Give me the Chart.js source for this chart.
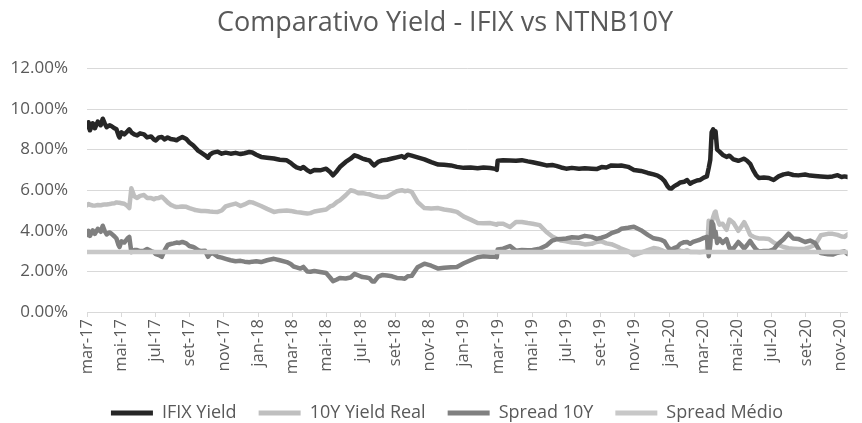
<!DOCTYPE html>
<html>
<head>
<meta charset="utf-8">
<script src="https://cdn.jsdelivr.net/npm/chart.js@4/dist/chart.umd.min.js"></script>
<style>
  html, body { margin: 0; padding: 0; background: #ffffff; }
  #wrap { width: 862px; height: 423px; }
</style>
</head>
<body>
<div id="wrap"><canvas id="c" width="862" height="423"></canvas></div>
<script>
// x positions: months elapsed since 1 March 2017
const months = [
  0, 0.09, 0.17, 0.34, 0.46, 0.63, 0.80, 0.92, 1.03, 1.15,
  1.32, 1.44, 1.61, 1.72, 1.84, 1.90, 2.01, 2.18, 2.36, 2.47,
  2.59, 2.76, 2.93, 3.10, 3.33, 3.51, 3.74, 3.91, 4.02, 4.20,
  4.37, 4.54, 4.71, 4.89, 5.06, 5.23, 5.40, 5.57, 5.80, 5.98,
  6.21, 6.32, 6.49, 6.67, 6.90, 7.07, 7.18, 7.36, 7.64, 7.87,
  8.10, 8.39, 8.68, 8.97, 9.20, 9.48, 9.66, 9.89, 10.17, 10.52,
  10.92, 11.26, 11.67, 11.90, 12.07, 12.24, 12.47, 12.64, 12.87, 13.05,
  13.28, 13.62, 13.97, 14.20, 14.37, 14.60, 14.77, 15.11, 15.40, 15.63,
  15.86, 16.09, 16.32, 16.49, 16.67, 16.78, 17.01, 17.24, 17.53, 17.82,
  18.10, 18.39, 18.56, 18.74, 18.97, 19.31, 19.71, 20.11, 20.52, 20.86,
  21.26, 21.61, 22.01, 22.41, 22.82, 23.16, 23.56, 23.85, 23.94, 23.99,
  24.31, 24.71, 25.06, 25.40, 25.75, 26.03, 26.44, 26.84, 27.18, 27.41,
  27.70, 27.99, 28.33, 28.74, 29.08, 29.48, 29.77, 30.06, 30.34, 30.63,
  31.03, 31.21, 31.61, 31.95, 32.36, 32.76, 33.10, 33.33, 33.56, 33.74,
  33.91, 34.02, 34.14, 34.31, 34.48, 34.66, 34.89, 35.06, 35.23, 35.40,
  35.63, 35.80, 36.03, 36.21, 36.32, 36.41, 36.49, 36.58, 36.67, 36.72,
  36.81, 36.95, 37.13, 37.36, 37.53, 37.76, 38.05, 38.22, 38.39, 38.56,
  38.74, 38.91, 39.08, 39.25, 39.54, 39.83, 40.11, 40.40, 40.69, 40.98,
  41.26, 41.55, 41.95, 42.24, 42.53, 42.87, 43.28, 43.56, 43.85, 44.08,
  44.25, 44.43
];

const ifixYield = [
  9.10, 9.35, 8.95, 9.30, 9.05, 9.38, 9.20, 9.52, 9.30, 9.10,
  9.20, 9.15, 9.05, 9.00, 8.70, 8.60, 8.85, 8.75, 8.90, 9.00,
  8.85, 8.75, 8.70, 8.80, 8.75, 8.60, 8.65, 8.50, 8.45, 8.60,
  8.62, 8.50, 8.60, 8.52, 8.50, 8.46, 8.55, 8.62, 8.52, 8.35,
  8.20, 8.10, 7.95, 7.85, 7.72, 7.60, 7.75, 7.85, 7.90, 7.80,
  7.85, 7.80, 7.84, 7.78, 7.82, 7.88, 7.86, 7.75, 7.64, 7.60,
  7.56, 7.50, 7.47, 7.35, 7.22, 7.12, 7.06, 7.14, 6.98, 6.90,
  7.00, 6.98, 7.06, 6.90, 6.73, 6.95, 7.14, 7.39, 7.55, 7.72,
  7.65, 7.56, 7.50, 7.47, 7.30, 7.22, 7.40, 7.47, 7.50, 7.56,
  7.62, 7.68, 7.60, 7.75, 7.70, 7.62, 7.52, 7.38, 7.26, 7.25,
  7.22, 7.15, 7.10, 7.12, 7.08, 7.12, 7.09, 7.05, 7.00, 7.45,
  7.47, 7.46, 7.45, 7.48, 7.42, 7.38, 7.30, 7.22, 7.24, 7.20,
  7.12, 7.06, 7.10, 7.06, 7.08, 7.06, 7.04, 7.14, 7.12, 7.22,
  7.20, 7.22, 7.15, 7.00, 6.95, 6.85, 6.78, 6.72, 6.60, 6.45,
  6.20, 6.10, 6.08, 6.20, 6.28, 6.38, 6.42, 6.50, 6.32, 6.40,
  6.48, 6.50, 6.62, 6.68, 7.10, 7.50, 8.85, 9.00, 8.60, 8.90,
  8.00, 7.90, 7.75, 7.64, 7.70, 7.52, 7.45, 7.50, 7.55, 7.45,
  7.30, 7.00, 6.75, 6.60, 6.62, 6.60, 6.50, 6.68, 6.78, 6.82,
  6.75, 6.73, 6.77, 6.72, 6.70, 6.68, 6.65, 6.68, 6.74, 6.65,
  6.68, 6.65
];

const yieldReal10Y = [
  5.26, 5.32, 5.28, 5.25, 5.24, 5.27, 5.26, 5.28, 5.30, 5.30,
  5.32, 5.34, 5.36, 5.40, 5.38, 5.38, 5.36, 5.33, 5.22, 5.12,
  6.10, 5.70, 5.62, 5.72, 5.76, 5.62, 5.62, 5.55, 5.60, 5.62,
  5.68, 5.55, 5.40, 5.28, 5.22, 5.17, 5.18, 5.20, 5.18, 5.12,
  5.06, 5.02, 5.00, 4.98, 4.97, 4.96, 4.95, 4.94, 4.93, 5.00,
  5.20, 5.28, 5.34, 5.22, 5.30, 5.42, 5.40, 5.32, 5.22, 5.08,
  4.93, 4.98, 5.00, 4.98, 4.95, 4.92, 4.90, 4.88, 4.85, 4.87,
  4.95, 5.00, 5.05, 5.20, 5.25, 5.42, 5.50, 5.75, 6.00, 5.95,
  5.85, 5.86, 5.82, 5.80, 5.75, 5.72, 5.68, 5.65, 5.68, 5.82,
  5.95, 6.00, 5.95, 5.98, 5.92, 5.42, 5.12, 5.10, 5.12, 5.05,
  5.00, 4.93, 4.70, 4.55, 4.38, 4.37, 4.38, 4.32, 4.30, 4.35,
  4.35, 4.19, 4.43, 4.43, 4.38, 4.35, 4.28, 3.94, 3.72, 3.62,
  3.52, 3.48, 3.42, 3.40, 3.33, 3.36, 3.45, 3.48, 3.38, 3.34,
  3.20, 3.12, 3.00, 2.80, 2.92, 3.05, 3.15, 3.12, 3.05, 2.98,
  2.97, 2.98, 3.00, 3.04, 3.08, 3.02, 2.98, 3.05, 2.96, 2.95,
  2.96, 2.94, 2.97, 2.98, 4.50, 4.20, 4.40, 4.68, 4.90, 4.95,
  4.60, 4.30, 4.35, 4.05, 4.55, 4.40, 4.00, 4.20, 4.43, 4.15,
  3.80, 3.72, 3.66, 3.62, 3.62, 3.60, 3.42, 3.30, 3.20, 3.14,
  3.12, 3.10, 3.12, 3.20, 3.30, 3.78, 3.85, 3.85, 3.80, 3.72,
  3.70, 3.82
];

const spread10Y = [
  3.80, 4.00, 3.75, 4.02, 3.85, 4.10, 3.95, 4.25, 4.00, 3.82,
  3.92, 3.85, 3.72, 3.62, 3.30, 3.20, 3.48, 3.42, 3.62, 3.70,
  2.95, 3.05, 3.05, 3.00, 3.02, 3.10, 3.00, 2.95, 2.85, 2.80,
  2.72, 3.05, 3.30, 3.35, 3.38, 3.42, 3.40, 3.45, 3.38, 3.25,
  3.20, 3.15, 3.05, 3.00, 3.02, 2.72, 2.85, 2.90, 2.72, 2.68,
  2.62, 2.55, 2.50, 2.52, 2.48, 2.45, 2.48, 2.50, 2.46, 2.55,
  2.62, 2.55, 2.46, 2.36, 2.24, 2.20, 2.14, 2.22, 2.00, 1.98,
  2.02, 1.97, 1.92, 1.70, 1.52, 1.60, 1.68, 1.65, 1.70, 1.88,
  1.80, 1.72, 1.70, 1.67, 1.50, 1.50, 1.74, 1.82, 1.80, 1.76,
  1.68, 1.66, 1.64, 1.76, 1.78, 2.20, 2.38, 2.28, 2.14, 2.18,
  2.20, 2.22, 2.40, 2.55, 2.70, 2.75, 2.72, 2.73, 2.70, 3.08,
  3.12, 3.25, 3.02, 3.05, 3.04, 3.06, 3.12, 3.28, 3.52, 3.58,
  3.60, 3.62, 3.68, 3.66, 3.75, 3.70, 3.60, 3.66, 3.74, 3.88,
  4.00, 4.10, 4.15, 4.20, 4.03, 3.80, 3.63, 3.60, 3.55, 3.47,
  3.23, 3.12, 3.08, 3.16, 3.20, 3.36, 3.44, 3.45, 3.36, 3.45,
  3.52, 3.56, 3.65, 3.70, 2.75, 3.30, 4.45, 4.32, 3.70, 3.95,
  3.40, 3.60, 3.40, 3.59, 3.15, 3.12, 3.45, 3.30, 3.12, 3.30,
  3.50, 3.28, 3.09, 2.98, 3.00, 3.00, 3.08, 3.38, 3.58, 3.86,
  3.62, 3.60, 3.45, 3.52, 3.40, 2.90, 2.84, 2.83, 2.92, 2.96,
  2.98, 2.86
];

// Spread Médio (average spread) – flat line across the whole period
const spreadMedioMonths = [0, 44.43];
const spreadMedio = [2.95, 2.95];

const tickLabels = [
  'mar-17','mai-17','jul-17','set-17','nov-17','jan-18','mar-18','mai-18',
  'jul-18','set-18','nov-18','jan-19','mar-19','mai-19','jul-19','set-19',
  'nov-19','jan-20','mar-20','mai-20','jul-20','set-20','nov-20'
];

const seriesNames = ['IFIX Yield', '10Y Yield Real', 'Spread 10Y', 'Spread Médio'];

const toXY = (xs, ys) => xs.map((x, i) => ({ x: x, y: ys[i] }));

const FONT = "'Open Sans', 'DejaVu Sans', sans-serif";
const TXT = '#595959';
const GRID = '#d9d9d9';

const ds = (label, data, color, width, order) => ({
  label, data, borderColor: color, backgroundColor: color,
  borderWidth: width, pointRadius: 0, pointHoverRadius: 0,
  tension: 0, borderJoinStyle: 'round', borderCapStyle: 'round',
  fill: false, order
});

// Shift the centred title / legend slightly right, as in the original layout
const centerShift = {
  id: 'centerShift',
  beforeDraw(chart) {
    if (chart.titleBlock) chart.titleBlock.left = 28;
    if (chart.legend) chart.legend.left = 32;
  }
};

new Chart(document.getElementById('c'), {
  type: 'line',
  plugins: [centerShift],
  data: {
    datasets: [
      ds(seriesNames[0], toXY(months, ifixYield), '#262626', 4.5, 4),
      ds(seriesNames[1], toXY(months, yieldReal10Y), '#bfbfbf', 4.5, 3),
      ds(seriesNames[2], toXY(months, spread10Y), '#808080', 4.5, 2),
      ds(seriesNames[3], toXY(spreadMedioMonths, spreadMedio), '#c8c8c8', 4.5, 1)
    ]
  },
  options: {
    responsive: false,
    animation: false,
    events: [],
    layout: { padding: { left: 0, right: 0, top: 0, bottom: -9 } },
    plugins: {
      title: {
        display: true,
        text: 'Comparativo Yield - IFIX vs NTNB10Y',
        color: TXT,
        font: { family: FONT, size: 27, weight: 'normal' },
        padding: { top: 7, bottom: 29 }
      },
      legend: {
        display: true,
        position: 'bottom',
        labels: {
          color: TXT,
          font: { family: FONT, size: 18 },
          boxWidth: 42,
          boxHeight: 5,
          padding: 22,
          sort: (a, b) => a.datasetIndex - b.datasetIndex,
          generateLabels: (chart) => {
            const items = Chart.defaults.plugins.legend.labels.generateLabels(chart);
            return items.map(it => Object.assign(it, { lineWidth: 0, fillStyle: it.strokeStyle }));
          }
        }
      },
      tooltip: { enabled: false }
    },
    scales: {
      x: {
        type: 'linear',
        min: 0,
        max: 44.43,
        afterFit: (s) => { s.height = 70; },
        ticks: {
          stepSize: 2,
          includeBounds: false,
          autoSkip: false,
          maxRotation: 90,
          minRotation: 90,
          padding: 2,
          color: TXT,
          font: { family: FONT, size: 16.5 },
          callback: (v) => {
            const i = Math.round(v / 2);
            return (Math.abs(v - i * 2) < 1e-6 && tickLabels[i]) ? tickLabels[i] : '';
          }
        },
        grid: { drawOnChartArea: false, drawTicks: true, tickLength: 5, color: GRID },
        border: { color: GRID }
      },
      y: {
        min: 0,
        max: 12,
        afterFit: (s) => { s.width = 87; },
        ticks: {
          stepSize: 2,
          padding: 19,
          color: TXT,
          font: { family: FONT, size: 17 },
          callback: (v) => v.toFixed(2) + '%'
        },
        grid: { color: GRID, lineWidth: 1, drawTicks: false },
        border: { display: false }
      }
    }
  }
});
</script>
</body>
</html>
